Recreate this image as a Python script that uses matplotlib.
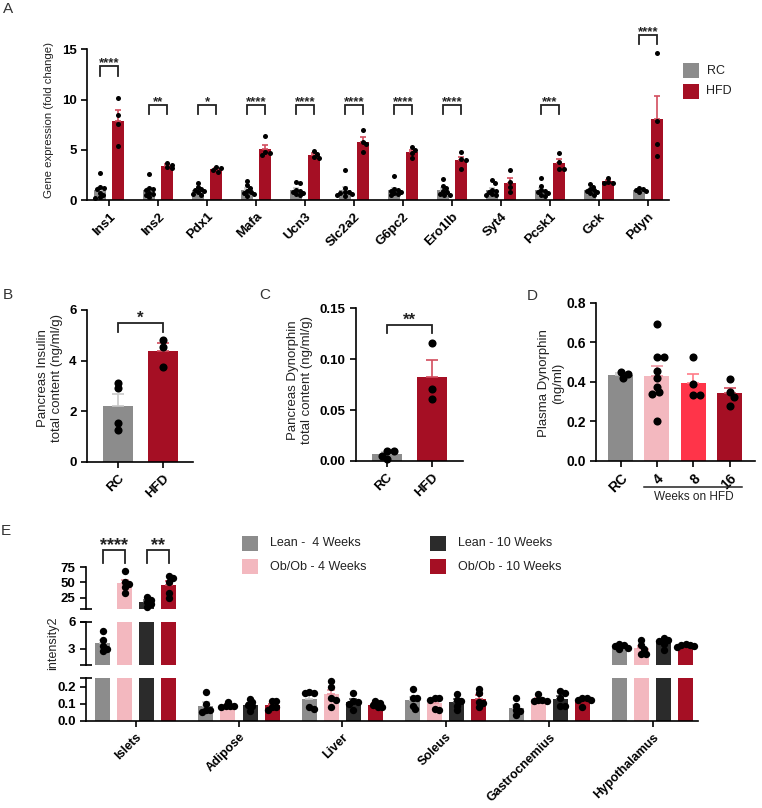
import numpy as np
import matplotlib
matplotlib.use('Agg')
import matplotlib.pyplot as plt
from matplotlib.patches import Rectangle
from matplotlib.lines import Line2D
from matplotlib.transforms import blended_transform_factory

plt.rcParams['font.family'] = ['Liberation Sans', 'DejaVu Sans']
plt.rcParams['axes.linewidth'] = 1.2

# ---------------- DATA ----------------
genes = ['Ins1', 'Ins2', 'Pdx1', 'Mafa', 'Ucn3', 'Slc2a2', 'G6pc2', 'Ero1lb',
         'Syt4', 'Pcsk1', 'Gck', 'Pdyn']
rc_expr = [
    [2.7, 1.3, 1.2, 1.1, 0.7, 0.5, 0.3, 0.2],
    [2.6, 1.2, 1.1, 1.0, 0.7, 0.6, 0.5, 0.3],
    [1.75, 1.3, 1.1, 1.0, 0.9, 0.8, 0.65, 0.5],
    [1.9, 1.5, 1.2, 0.9, 0.8, 0.7, 0.6, 0.4],
    [1.8, 1.7, 1.0, 0.9, 0.8, 0.7, 0.6, 0.5],
    [3.0, 1.2, 0.8, 0.8, 0.7, 0.6, 0.5, 0.4],
    [2.4, 1.1, 1.0, 0.9, 0.8, 0.7, 0.6, 0.5],
    [2.1, 1.4, 1.2, 0.9, 0.8, 0.6, 0.5, 0.5],
    [2.0, 1.7, 1.0, 0.9, 0.8, 0.6, 0.5, 0.5],
    [2.25, 1.4, 1.0, 0.9, 0.8, 0.7, 0.5, 0.45],
    [1.6, 1.35, 1.1, 1.0, 0.9, 0.8, 0.7, 0.55],
    [1.2, 1.1, 1.0, 0.9, 0.8],
]
hfd_expr = [
    [10.2, 8.5, 7.6, 5.4],
    [3.7, 3.55, 3.35, 3.2],
    [3.3, 3.2, 3.0, 2.85],
    [6.4, 4.8, 4.7, 4.5],
    [4.9, 4.6, 4.3, 4.2],
    [7.0, 5.8, 5.6, 4.8],
    [5.3, 5.0, 4.7, 4.2],
    [4.8, 4.1, 4.0, 3.1],
    [3.0, 1.85, 1.35, 0.85],
    [4.7, 3.85, 3.1, 3.1],
    [2.2, 1.85, 1.75, 1.75],
    [14.6, 7.9, 5.6, 4.4],
]
sig_A = ['****', '**', '*', '****', '****', '****', '****', '****', '', '***', '', '****']

groups_BC = ['RC', 'HFD']
insulin_rc = [3.13, 2.9, 1.54, 1.25]
insulin_hfd = [4.8, 4.55, 3.75]
dyn_rc = [0.0098, 0.0095, 0.005, 0.0017]
dyn_hfd = [0.116, 0.0707, 0.061]

groups_D = ['RC', '4', '8', '16']
plasma_rc = [0.448, 0.438, 0.421]
plasma_w4 = [0.69, 0.525, 0.525, 0.456, 0.42, 0.376, 0.35, 0.338, 0.2]
plasma_w8 = [0.524, 0.389, 0.333, 0.333]
plasma_w16 = [0.414, 0.35, 0.325, 0.28]

tissues = ['Islets', 'Adipose', 'Liver', 'Soleus', 'Gastrocnemius', 'Hypothalamus']
e_series = ['Lean -  4 Weeks', 'Ob/Ob - 4 Weeks', 'Lean - 10 Weeks', 'Ob/Ob - 10 Weeks']
lean4 = [[5.0, 4.0, 3.3, 3.0, 2.8],
         [0.168, 0.10, 0.06, 0.05, 0.06],
         [0.17, 0.164, 0.164, 0.08, 0.068],
         [0.188, 0.13, 0.13, 0.088, 0.068],
         [0.13, 0.088, 0.064, 0.054, 0.034],
         [3.5, 3.4, 3.3, 3.1, 3.0]]
ob4 = [[69, 50, 48, 42, 33],
       [0.11, 0.088, 0.088, 0.085, 0.082],
       [0.23, 0.2, 0.134, 0.124, 0.08],
       [0.134, 0.13, 0.12, 0.068, 0.064],
       [0.154, 0.124, 0.124, 0.114, 0.114],
       [4.0, 3.4, 3.0, 2.45, 2.4]]
lean10 = [[27, 22, 19, 15, 11],
          [0.128, 0.108, 0.094, 0.054, 0.084],
          [0.16, 0.114, 0.108, 0.1, 0.06],
          [0.154, 0.124, 0.114, 0.088, 0.064],
          [0.174, 0.164, 0.13, 0.088, 0.088],
          [4.2, 4.0, 3.9, 3.6, 2.9]]
ob10 = [[61, 57, 50, 33, 25],
        [0.114, 0.114, 0.08, 0.064, 0.08],
        [0.114, 0.104, 0.094, 0.08, 0.08],
        [0.188, 0.164, 0.11, 0.104, 0.08],
        [0.134, 0.13, 0.124, 0.124, 0.08],
        [3.6, 3.45, 3.44, 3.3, 3.25]]

# ---------------- STYLE ----------------
C_RC, E_RC = '#8c8c8c', '#c8c8c8'
C_HFD, E_HFD = '#a50f24', '#d24d5e'
C_PINK, E_PINK = '#f3b8bf', '#ee97a3'
C_DARK, E_DARK = '#2b2b2b', '#5a5a5a'
C_8, E_8 = '#ff3449', '#ff7b88'
TXT = '#222222'

W, H = 762, 808
fig = plt.figure(figsize=(W / 100, H / 100), dpi=100)


def fx(x):
    return x / W


def fy(y):
    return 1 - y / H


def add_ax(x0, y0, x1, y1):
    return fig.add_axes([x0 / W, 1 - y1 / H, (x1 - x0) / W, (y1 - y0) / H])


def style(ax, fs=9, bottom=True):
    for s in ['top', 'right']:
        ax.spines[s].set_visible(False)
    if not bottom:
        ax.spines['bottom'].set_visible(False)
        ax.tick_params(axis='x', bottom=False, labelbottom=False)
    ax.tick_params(direction='out', length=4, width=1.2, labelsize=fs, colors='black')
    for lab in ax.get_yticklabels() + ax.get_xticklabels():
        lab.set_fontweight('bold')


def swarm_x(ax, xc, vals, d_px, fac):
    t = ax.transData
    x0p = t.transform((xc, 0))[0]
    ys = [t.transform((xc, v))[1] for v in vals]
    order = np.argsort(-np.asarray(vals, dtype=float), kind='stable')
    placed = []
    out = np.zeros(len(vals))
    step = d_px / 3.0
    for i in order:
        y = ys[i]
        off = 0.0
        for k in range(0, 80):
            off = 0.0 if k == 0 else ((k + 1) // 2) * step * (1 if k % 2 == 1 else -1)
            if all((off - px) ** 2 + (y - py) ** 2 >= (fac * d_px) ** 2 for px, py in placed):
                break
        placed.append((off, y))
        out[i] = t.inverted().transform((x0p + off, y))[0]
    return out


def bar_group(axes, swarm_ax, xc, pts, width, color, ecolor, dot_px, s, cap=3, fac=0.8):
    pts = np.asarray(pts, dtype=float)
    m = pts.mean()
    se = pts.std(ddof=1) / np.sqrt(len(pts))
    xs = swarm_x(swarm_ax, xc, pts, dot_px, fac)
    for ax in axes:
        lo, hi = ax.get_ylim()
        ax.bar(xc, m, width, color=color, zorder=1, linewidth=0)
        ax.errorbar(xc, m, yerr=[[0], [se]], fmt='none', ecolor=ecolor,
                    elinewidth=1.2, capsize=cap, capthick=1.2, zorder=2)
        sel = (pts >= lo) & (pts <= hi)
        if sel.any():
            ax.scatter(xs[sel], pts[sel], s=s, color='black', zorder=3,
                       linewidths=0, clip_on=False)


def bracket(ax, x0, x1, y0, y1, text, fs, transform=None):
    tr = transform if transform is not None else ax.transData
    ax.plot([x0, x0, x1, x1], [y0, y1, y1, y0], color=TXT, lw=1.3,
            clip_on=False, transform=tr, solid_joinstyle='miter')
    ax.text((x0 + x1) / 2, y1, text, ha='center', va='baseline', fontsize=fs,
            fontweight='bold', color=TXT, transform=tr, clip_on=False)


def panel_letter(x, y, t):
    fig.text(fx(x), fy(y), t, fontsize=11, color='#333333', ha='left', va='top')


def fig_rect(x0, y0, x1, y1, color):
    fig.add_artist(Rectangle((fx(x0), fy(y1)), (x1 - x0) / W, (y1 - y0) / H,
                             transform=fig.transFigure, color=color, lw=0))


# ---------------- PANEL A ----------------
axA = add_ax(87, 49.3, 669, 200.3)
axA.set_xlim(-0.45, 11.43)
axA.set_ylim(0, 15)
offA, bwA = 0.19, 0.245
for i in range(len(genes)):
    bar_group([axA], axA, i - offA, rc_expr[i], bwA, C_RC, E_RC, 4.6, 13, cap=2.5, fac=0.75)
    bar_group([axA], axA, i + offA, hfd_expr[i], bwA, C_HFD, E_HFD, 4.6, 13, cap=2.5, fac=0.75)
brA = {0: (12.3, 13.3), 11: (15.5, 16.4)}
for i, sg in enumerate(sig_A):
    if sg:
        y0, y1 = brA.get(i, (8.57, 9.45))
        bracket(axA, i - offA, i + offA, y0, y1, sg, 9.5)
axA.set_yticks([0, 5, 10, 15])
axA.set_xticks(range(len(genes)))
axA.set_xticklabels(genes, rotation=45, ha='right', rotation_mode='anchor')
style(axA, fs=9.5)
fig.text(fx(49), fy(120), 'Gene expression (fold change)', rotation=90,
         ha='center', va='center', fontsize=8.2, color=TXT)
fig_rect(683, 63, 698.5, 77.5, C_RC)
fig_rect(683, 84, 698.5, 98.5, C_HFD)
fig.text(fx(707), fy(70.5), 'RC', fontsize=9, va='center', ha='left', color=TXT)
fig.text(fx(706), fy(91.5), 'HFD', fontsize=9, va='center', ha='left', color=TXT)
panel_letter(3, 2, 'A')

# ---------------- PANEL B ----------------
axB = add_ax(87, 310, 193, 461.7)
axB.set_xlim(-0.69, 1.67)
axB.set_ylim(0, 6)
bar_group([axB], axB, 0, insulin_rc, 0.667, C_RC, E_RC, 7, 34, cap=4)
bar_group([axB], axB, 1, insulin_hfd, 0.667, C_HFD, E_HFD, 7, 34, cap=4)
bracket(axB, 0, 1, 5.14, 5.5, '*', 12)
axB.set_yticks([0, 2, 4, 6])
axB.set_xticks([0, 1])
axB.set_xticklabels(groups_BC, rotation=45, ha='right', rotation_mode='anchor')
style(axB, fs=9.5)
fig.text(fx(50), fy(378), 'Pancreas Insulin\ntotal content (ng/ml/g)', rotation=90,
         ha='center', va='center', fontsize=9.5, color=TXT, linespacing=1.2,
         multialignment='center')
panel_letter(3, 288, 'B')

# ---------------- PANEL C ----------------
axC = add_ax(356, 308.3, 462.7, 461)
axC.set_xlim(-0.68, 1.69)
axC.set_ylim(0, 0.15)
bar_group([axC], axC, 0, dyn_rc, 0.667, C_RC, E_RC, 7, 34, cap=4)
bar_group([axC], axC, 1, dyn_hfd, 0.667, C_HFD, E_HFD, 7, 34, cap=4)
bracket(axC, 0, 1, 0.1255, 0.134, '**', 12)
axC.set_yticks([0, 0.05, 0.10, 0.15])
axC.set_yticklabels(['0.00', '0.05', '0.10', '0.15'])
axC.set_xticks([0, 1])
axC.set_xticklabels(groups_BC, rotation=45, ha='right', rotation_mode='anchor')
style(axC, fs=9.5)
fig.text(fx(300), fy(380), 'Pancreas Dynorphin\ntotal content (ng/ml/g)', rotation=90,
         ha='center', va='center', fontsize=9.5, color=TXT, linespacing=1.2,
         multialignment='center')
panel_letter(259, 288, 'C')

# ---------------- PANEL D ----------------
axD = add_ax(596, 302.7, 755, 461)
axD.set_xlim(-0.675, 3.7)
axD.set_ylim(0, 0.8)
for k, (pts, c, ec) in enumerate([(plasma_rc, C_RC, E_RC), (plasma_w4, C_PINK, E_PINK),
                                  (plasma_w8, C_8, E_8), (plasma_w16, C_HFD, E_HFD)]):
    bar_group([axD], axD, k, pts, 0.69, c, ec, 7, 34, cap=4)
axD.set_yticks([0, 0.2, 0.4, 0.6, 0.8])
axD.set_yticklabels(['0.0', '0.2', '0.4', '0.6', '0.8'])
axD.set_xticks(range(4))
axD.set_xticklabels(groups_D, rotation=45, ha='right', rotation_mode='anchor')
style(axD, fs=10)
fig.text(fx(551), fy(383), 'Plasma Dynorphin\n(ng/ml)', rotation=90,
         ha='center', va='center', fontsize=9.5, color=TXT, linespacing=1.2,
         multialignment='center')
fig.add_artist(Line2D([fx(644), fx(742)], [fy(486.7), fy(486.7)], color=TXT, lw=1.1,
                      transform=fig.transFigure))
fig.text(fx(694), fy(497), 'Weeks on HFD', ha='center', va='center', fontsize=8.5, color=TXT)
panel_letter(527, 289, 'D')

# ---------------- PANEL E ----------------
axE3 = add_ax(86, 567, 698, 609)
axE2 = add_ax(86, 622, 698, 665)
axE1 = add_ax(86, 678, 698, 720.7)
xlimE = (-0.48, 5.44)
for ax in (axE1, axE2, axE3):
    ax.set_xlim(*xlimE)
axE3.set_ylim(7, 75)
axE2.set_ylim(1.2, 6)
axE1.set_ylim(0, 0.25)
offs = [-0.32, -0.107, 0.107, 0.32]
cols = [(C_RC, E_RC), (C_PINK, E_PINK), (C_DARK, E_DARK), (C_HFD, E_HFD)]
for t in range(len(tissues)):
    for j, ser in enumerate([lean4, ob4, lean10, ob10]):
        pts = ser[t]
        mx = max(pts)
        sax = axE1 if mx <= 0.25 else (axE2 if mx <= 6 else axE3)
        bar_group([axE1, axE2, axE3], sax, t + offs[j], pts, 0.145,
                  cols[j][0], cols[j][1], 6.5, 28, cap=3, fac=0.6)
trE = blended_transform_factory(axE3.transData, fig.transFigure)
bracket(axE3, offs[0], offs[1], fy(563), fy(550), '****', 13, transform=trE)
bracket(axE3, offs[2], offs[3], fy(563), fy(550), '**', 13, transform=trE)

axE3.set_yticks([25, 50, 75])
axE2.set_yticks([3, 6])
axE1.set_yticks([0, 0.1, 0.2])
axE1.set_yticklabels(['0.0', '0.1', '0.2'])
axE1.set_xticks(range(len(tissues)))
axE1.set_xticklabels(tissues, rotation=45, ha='right', rotation_mode='anchor')
style(axE3, fs=9.5, bottom=False)
style(axE2, fs=9.5, bottom=False)
style(axE1, fs=9.5)
for lab in axE1.get_xticklabels():
    lab.set_fontsize(9)
# break terminators
for ax, yy in [(axE3, 0), (axE2, 0), (axE2, 1), (axE1, 1)]:
    ax.plot([-0.009, 0.009], [yy, yy], transform=ax.transAxes, color='black',
            lw=1.2, clip_on=False, solid_capstyle='butt')
fig.text(fx(53), fy(643), 'intensity2', rotation=90, ha='center', va='center',
         fontsize=9, color=TXT)

# legend E
leg_pos = [(242, 536), (242, 559), (430, 536), (430, 559)]
for (lx, ly), (c, _), lab in zip(leg_pos, cols, e_series):
    fig_rect(lx, ly, lx + 15.5, ly + 15, c)
    fig.text(fx(lx + 28), fy(ly + 7.5), lab, ha='left', va='center', fontsize=9, color=TXT)
panel_letter(1, 524, 'E')

fig.savefig('out.png', dpi=100)
